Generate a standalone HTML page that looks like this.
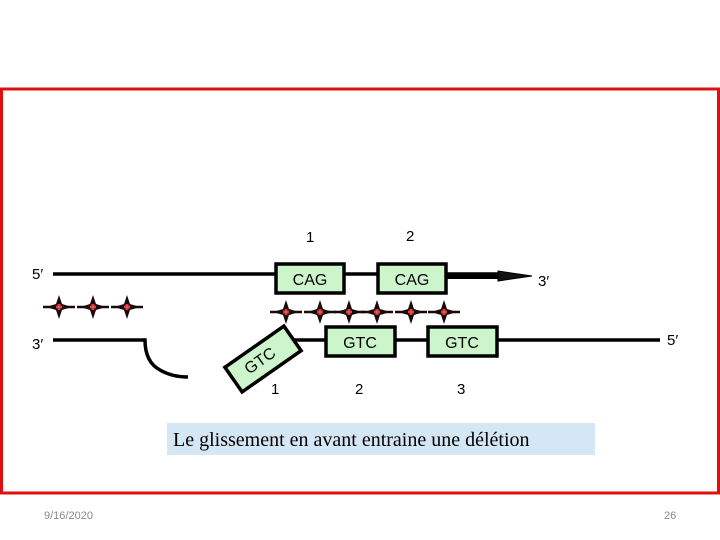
<!DOCTYPE html>
<html><head><meta charset="utf-8"><style>
html,body{margin:0;padding:0;background:#fff;}
svg{display:block;}
</style></head><body>
<svg width="720" height="540" viewBox="0 0 720 540" xmlns="http://www.w3.org/2000/svg">
<defs>
<g id="st">
<path d="M-16,0 H16" stroke="#1a0a0a" stroke-width="2.5"/>
<path d="M0,-12 L3,-3 L13,0 L3,3 L0,12 L-3,3 L-13,0 L-3,-3 Z" fill="#1a0a0a"/>
<circle r="3" fill="#b02828"/>
<path d="M0,-3 V3 M-3,0 H3" stroke="#ff6060" stroke-width="1"/>
</g>
</defs>
<rect x="1.5" y="89" width="717" height="404" fill="none" stroke="#e01010" stroke-width="3"/>
<g font-family="Liberation Sans, sans-serif" font-size="15" fill="#000">
<text x="306" y="242">1</text>
<text x="406" y="241">2</text>
<text x="32" y="279">5′</text>
<text x="538" y="286">3′</text>
<text x="32" y="349">3′</text>
<text x="667" y="345">5′</text>
<text x="271" y="394">1</text>
<text x="355" y="394">2</text>
<text x="457" y="394">3</text>
</g>
<g stroke="#000" fill="none">
<path d="M53,274 H500" stroke-width="3.5"/>
<path d="M446,276 H505" stroke-width="6"/>
<path d="M498,271 L532,276 L498,281 Z" fill="#111" stroke-width="1"/>
<path d="M53,340 H145 Q145,362 160,370 Q172,377 188,377" stroke-width="3.5"/>
<path d="M285,340 H660" stroke-width="3.5"/>
</g>
<g stroke="#000" stroke-width="3.5" fill="#ccf5cc">
<rect x="276" y="264" width="68" height="29"/>
<rect x="378" y="264" width="68" height="29"/>
<rect x="326" y="327" width="69" height="29"/>
<rect x="428" y="327" width="69" height="29"/>
<rect x="-36" y="-15" width="72" height="30" transform="translate(263,359) rotate(-35)"/>
</g>
<g font-family="Liberation Sans, sans-serif" font-size="16" fill="#000" text-anchor="middle">
<text x="310" y="285">CAG</text>
<text x="412" y="285">CAG</text>
<text x="360" y="348">GTC</text>
<text x="462" y="348">GTC</text>
<text transform="translate(263,365) rotate(-35)">GTC</text>
</g>
<use href="#st" x="59" y="307"/><use href="#st" x="93" y="307"/><use href="#st" x="127" y="307"/>
<use href="#st" x="286" y="312"/><use href="#st" x="320" y="312"/><use href="#st" x="349" y="312"/>
<use href="#st" x="377" y="312"/><use href="#st" x="411" y="312"/><use href="#st" x="444" y="312"/>
<rect x="167" y="423" width="428" height="32" fill="#d5e6f4"/>
<text x="173" y="446" font-family="Liberation Serif, serif" font-size="20" fill="#000">Le glissement en avant entraine une délétion</text>
<text x="44" y="519" font-family="Liberation Sans, sans-serif" font-size="11" fill="#888">9/16/2020</text>
<text x="664" y="519" font-family="Liberation Sans, sans-serif" font-size="11" fill="#888">26</text>
</svg>
</body></html>
